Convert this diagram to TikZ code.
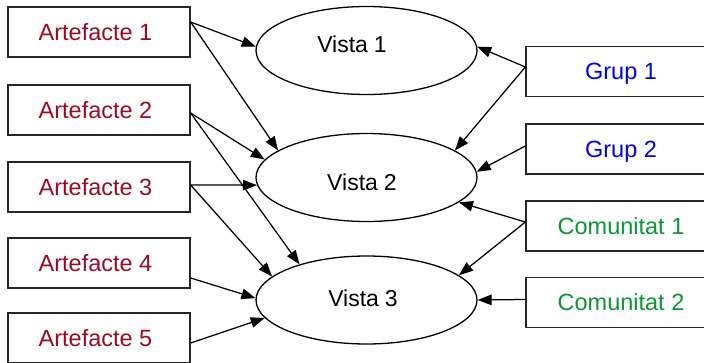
\documentclass[tikz,border=0pt]{standalone}
\usepackage{fontspec}
\setmainfont{Liberation Sans}
\usetikzlibrary{arrows.meta,shapes.geometric}
\definecolor{artred}{RGB}{155,10,35}
\definecolor{grpblue}{RGB}{0,0,235}
\definecolor{comgreen}{RGB}{10,150,50}
\tikzset{
  box/.style={draw=black!85,line width=1.3pt,minimum width=182pt,minimum height=50pt,inner sep=0pt,
    text height=16.5pt,text depth=0pt,font=\fontsize{23.5}{27}\selectfont},
  lbox/.style={box,text=artred,execute at end node={\hspace*{7pt}}},
  rbox/.style={box,minimum width=190pt},
  vis/.style={draw=black,line width=1.3pt,ellipse,minimum width=221pt,minimum height=88pt,inner sep=0pt},
  vlabel/.style={anchor=base,inner sep=0pt,font=\fontsize{23}{27}\selectfont},
  arr/.style={line width=1.25pt,-{Triangle[length=14pt,width=10.5pt]}}
}
\begin{document}
\begin{tikzpicture}[x=1pt,y=-1pt]
\useasboundingbox (0,0) rectangle (704,362);
% left boxes
\node[lbox] (a1) at (99,32) {Artefacte 1};
\node[lbox] (a2) at (99,110) {Artefacte 2};
\node[lbox] (a3) at (99,187) {Artefacte 3};
\node[lbox] (a4) at (99,263) {Artefacte 4};
\node[lbox] (a5) at (99,338) {Artefacte 5};
% right boxes
\node[rbox,text=grpblue] (g1) at (621,71.5) {Grup 1};
\node[rbox,text=grpblue] (g2) at (621,149) {Grup 2};
\node[rbox,text=comgreen] (c1) at (621,226) {Comunitat 1};
\node[rbox,text=comgreen] (c2) at (621,302.5) {Comunitat 2};
% ellipses
\node[vis] (v1) at (366.5,50.5) {};
\node[vis] (v2) at (366.5,177.5) {};
\node[vis] (v3) at (366.5,300) {};
\node[vlabel] (v1t) at (352,52) {Vista\hspace{6pt}1};
\node[vlabel] (v2t) at (362,190) {Vista\hspace{6pt}2};
\node[vlabel] (v3t) at (363,306) {Vista\hspace{6pt}3};
% arrows from artefacts
\draw[arr] ([yshift=10pt]a1.east) -- (v1.178);
\draw[arr] ([yshift=10pt]a1.east) -- (v2.163);
\draw[arr] ([yshift=-3pt]a2.east) -- (v2.170);
\draw[arr] ([yshift=-3pt]a2.east) -- (v3.152);
\draw[arr] ([yshift=2pt]a3.east) -- (v2.184);
\draw[arr] ([yshift=2pt]a3.east) -- (v3.166);
\draw[arr] ([yshift=-15pt]a4.east) -- (v3.179);
\draw[arr] ([yshift=-5pt]a5.east) -- (v3.190);
% arrows from groups and communities
\draw[arr] ([yshift=4.5pt]g1.west) -- (v1.2);
\draw[arr] ([yshift=4.5pt]g1.west) -- (v2.17);
\draw[arr] ([yshift=3pt]g2.west) -- (v2.3);
\draw[arr] ([yshift=4pt]c1.west) -- (v2.345);
\draw[arr] ([yshift=4pt]c1.west) -- (v3.15);
\draw[arr] ([yshift=3pt]c2.west) -- (v3.0.5);
\end{tikzpicture}
\end{document}
